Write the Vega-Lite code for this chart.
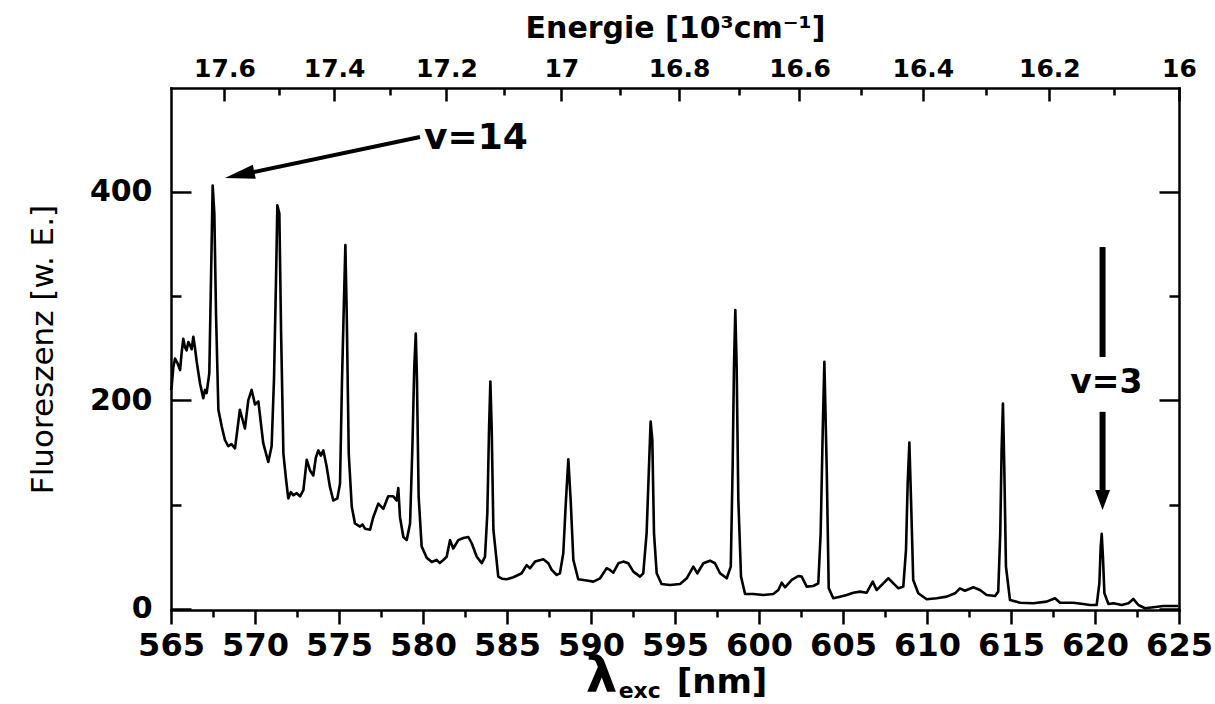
{
  "$schema": "https://vega.github.io/schema/vega-lite/v6.json",
  "width": 1008,
  "height": 522,
  "autosize": {"type": "none"},
  "padding": {"left": 171, "top": 88, "right": 36, "bottom": 94},
  "background": "white",
  "config": {
    "view": {"stroke": null},
    "axis": {
      "grid": false,
      "domainColor": "black",
      "tickColor": "black",
      "labelColor": "black",
      "titleColor": "black",
      "domainWidth": 2.5,
      "tickWidth": 2.5,
      "labelFlush": false,
      "labelOverlap": false,
      "labelBound": false,
      "labelFont": "DejaVu Sans",
      "labelFontWeight": "bold",
      "titleFont": "DejaVu Sans",
      "domainCap": "square"
    }
  },
  "datasets": {
    "spectrum": [
      {"wavelength": 565.0, "intensity": 210}, {"wavelength": 565.04, "intensity": 213}, {"wavelength": 565.14, "intensity": 232}, {"wavelength": 565.24, "intensity": 240},
      {"wavelength": 565.38, "intensity": 236}, {"wavelength": 565.54, "intensity": 229}, {"wavelength": 565.63, "intensity": 245}, {"wavelength": 565.73, "intensity": 259},
      {"wavelength": 565.83, "intensity": 251}, {"wavelength": 565.93, "intensity": 248}, {"wavelength": 566.03, "intensity": 256}, {"wavelength": 566.13, "intensity": 253},
      {"wavelength": 566.23, "intensity": 249}, {"wavelength": 566.33, "intensity": 261}, {"wavelength": 566.43, "intensity": 250}, {"wavelength": 566.53, "intensity": 237},
      {"wavelength": 566.73, "intensity": 216}, {"wavelength": 566.92, "intensity": 202}, {"wavelength": 567.02, "intensity": 210}, {"wavelength": 567.12, "intensity": 207},
      {"wavelength": 567.28, "intensity": 226}, {"wavelength": 567.38, "intensity": 315}, {"wavelength": 567.48, "intensity": 406}, {"wavelength": 567.58, "intensity": 379},
      {"wavelength": 567.68, "intensity": 283}, {"wavelength": 567.82, "intensity": 191}, {"wavelength": 568.02, "intensity": 175}, {"wavelength": 568.21, "intensity": 162},
      {"wavelength": 568.41, "intensity": 156}, {"wavelength": 568.6, "intensity": 158}, {"wavelength": 568.81, "intensity": 154}, {"wavelength": 569.1, "intensity": 191},
      {"wavelength": 569.4, "intensity": 173}, {"wavelength": 569.6, "intensity": 200}, {"wavelength": 569.8, "intensity": 210}, {"wavelength": 570.0, "intensity": 196},
      {"wavelength": 570.2, "intensity": 199}, {"wavelength": 570.49, "intensity": 159}, {"wavelength": 570.79, "intensity": 141}, {"wavelength": 570.99, "intensity": 156},
      {"wavelength": 571.13, "intensity": 220}, {"wavelength": 571.25, "intensity": 315}, {"wavelength": 571.33, "intensity": 387}, {"wavelength": 571.45, "intensity": 379},
      {"wavelength": 571.55, "intensity": 268}, {"wavelength": 571.69, "intensity": 149}, {"wavelength": 571.85, "intensity": 124}, {"wavelength": 571.98, "intensity": 106},
      {"wavelength": 572.13, "intensity": 112}, {"wavelength": 572.28, "intensity": 109}, {"wavelength": 572.48, "intensity": 111}, {"wavelength": 572.68, "intensity": 108},
      {"wavelength": 572.88, "intensity": 114}, {"wavelength": 573.08, "intensity": 143}, {"wavelength": 573.27, "intensity": 133}, {"wavelength": 573.47, "intensity": 128},
      {"wavelength": 573.62, "intensity": 145}, {"wavelength": 573.77, "intensity": 152}, {"wavelength": 573.92, "intensity": 147}, {"wavelength": 574.07, "intensity": 152},
      {"wavelength": 574.27, "intensity": 136}, {"wavelength": 574.46, "intensity": 117}, {"wavelength": 574.66, "intensity": 104}, {"wavelength": 574.9, "intensity": 106},
      {"wavelength": 575.06, "intensity": 120}, {"wavelength": 575.18, "intensity": 220}, {"wavelength": 575.3, "intensity": 299}, {"wavelength": 575.38, "intensity": 349},
      {"wavelength": 575.46, "intensity": 283}, {"wavelength": 575.58, "intensity": 149}, {"wavelength": 575.76, "intensity": 98}, {"wavelength": 575.95, "intensity": 82},
      {"wavelength": 576.25, "intensity": 79}, {"wavelength": 576.4, "intensity": 81}, {"wavelength": 576.55, "intensity": 77}, {"wavelength": 576.85, "intensity": 76},
      {"wavelength": 577.04, "intensity": 88}, {"wavelength": 577.34, "intensity": 101}, {"wavelength": 577.64, "intensity": 96}, {"wavelength": 577.93, "intensity": 108},
      {"wavelength": 578.23, "intensity": 108}, {"wavelength": 578.43, "intensity": 104}, {"wavelength": 578.53, "intensity": 116}, {"wavelength": 578.63, "intensity": 88},
      {"wavelength": 578.83, "intensity": 69}, {"wavelength": 579.03, "intensity": 66}, {"wavelength": 579.23, "intensity": 82}, {"wavelength": 579.37, "intensity": 156},
      {"wavelength": 579.48, "intensity": 232}, {"wavelength": 579.57, "intensity": 264}, {"wavelength": 579.64, "intensity": 220}, {"wavelength": 579.74, "intensity": 108},
      {"wavelength": 579.92, "intensity": 60}, {"wavelength": 580.22, "intensity": 49}, {"wavelength": 580.52, "intensity": 45}, {"wavelength": 580.81, "intensity": 47},
      {"wavelength": 581.0, "intensity": 44}, {"wavelength": 581.21, "intensity": 47}, {"wavelength": 581.41, "intensity": 50}, {"wavelength": 581.61, "intensity": 66},
      {"wavelength": 581.8, "intensity": 58}, {"wavelength": 582.1, "intensity": 66}, {"wavelength": 582.4, "intensity": 68}, {"wavelength": 582.7, "intensity": 69},
      {"wavelength": 582.9, "intensity": 63}, {"wavelength": 583.2, "intensity": 50}, {"wavelength": 583.5, "intensity": 44}, {"wavelength": 583.69, "intensity": 50},
      {"wavelength": 583.83, "intensity": 92}, {"wavelength": 583.93, "intensity": 172}, {"wavelength": 584.01, "intensity": 218}, {"wavelength": 584.09, "intensity": 172},
      {"wavelength": 584.19, "intensity": 76}, {"wavelength": 584.48, "intensity": 31}, {"wavelength": 584.7, "intensity": 29}, {"wavelength": 584.98, "intensity": 28.5},
      {"wavelength": 585.38, "intensity": 30.4}, {"wavelength": 585.87, "intensity": 34.2}, {"wavelength": 586.17, "intensity": 42}, {"wavelength": 586.37, "intensity": 39},
      {"wavelength": 586.67, "intensity": 45.4}, {"wavelength": 587.16, "intensity": 47.6}, {"wavelength": 587.46, "intensity": 43.8}, {"wavelength": 587.66, "intensity": 37.4},
      {"wavelength": 587.96, "intensity": 32.6}, {"wavelength": 588.15, "intensity": 34.2}, {"wavelength": 588.35, "intensity": 53.4}, {"wavelength": 588.51, "intensity": 104.5},
      {"wavelength": 588.65, "intensity": 143.5}, {"wavelength": 588.79, "intensity": 104.5}, {"wavelength": 588.95, "intensity": 47}, {"wavelength": 589.24, "intensity": 28.5},
      {"wavelength": 589.74, "intensity": 27.2}, {"wavelength": 590.14, "intensity": 26.2}, {"wavelength": 590.54, "intensity": 29.4}, {"wavelength": 590.93, "intensity": 39},
      {"wavelength": 591.13, "intensity": 37.4}, {"wavelength": 591.33, "intensity": 34.8}, {"wavelength": 591.63, "intensity": 43.8}, {"wavelength": 591.92, "intensity": 45.4},
      {"wavelength": 592.22, "intensity": 43.8}, {"wavelength": 592.52, "intensity": 35.8}, {"wavelength": 592.92, "intensity": 31}, {"wavelength": 593.11, "intensity": 34.2},
      {"wavelength": 593.31, "intensity": 72.6}, {"wavelength": 593.45, "intensity": 136}, {"wavelength": 593.55, "intensity": 179.6}, {"wavelength": 593.65, "intensity": 162},
      {"wavelength": 593.75, "intensity": 72.6}, {"wavelength": 593.91, "intensity": 34.2}, {"wavelength": 594.2, "intensity": 24}, {"wavelength": 594.7, "intensity": 23},
      {"wavelength": 595.3, "intensity": 24}, {"wavelength": 595.7, "intensity": 29.4}, {"wavelength": 596.09, "intensity": 40.6}, {"wavelength": 596.33, "intensity": 34.2},
      {"wavelength": 596.69, "intensity": 43.8}, {"wavelength": 597.08, "intensity": 46.3}, {"wavelength": 597.38, "intensity": 43.8}, {"wavelength": 597.68, "intensity": 34.2},
      {"wavelength": 598.08, "intensity": 29.4}, {"wavelength": 598.32, "intensity": 40.6}, {"wavelength": 598.43, "intensity": 136}, {"wavelength": 598.51, "intensity": 232},
      {"wavelength": 598.59, "intensity": 286.7}, {"wavelength": 598.67, "intensity": 232}, {"wavelength": 598.77, "intensity": 104.5}, {"wavelength": 598.93, "intensity": 31},
      {"wavelength": 599.17, "intensity": 14.4}, {"wavelength": 599.66, "intensity": 14.4}, {"wavelength": 600.26, "intensity": 13.4}, {"wavelength": 600.85, "intensity": 14.4},
      {"wavelength": 601.15, "intensity": 18.2}, {"wavelength": 601.35, "intensity": 25.2}, {"wavelength": 601.55, "intensity": 20.8}, {"wavelength": 601.95, "intensity": 27.8},
      {"wavelength": 602.34, "intensity": 31.6}, {"wavelength": 602.54, "intensity": 31}, {"wavelength": 602.84, "intensity": 21.4}, {"wavelength": 603.23, "intensity": 22},
      {"wavelength": 603.53, "intensity": 24.6}, {"wavelength": 603.67, "intensity": 72.6}, {"wavelength": 603.79, "intensity": 168}, {"wavelength": 603.89, "intensity": 237},
      {"wavelength": 604.03, "intensity": 136}, {"wavelength": 604.15, "intensity": 20}, {"wavelength": 604.42, "intensity": 10.3}, {"wavelength": 604.82, "intensity": 11.8},
      {"wavelength": 605.22, "intensity": 13.4}, {"wavelength": 605.61, "intensity": 15.6}, {"wavelength": 606.01, "intensity": 16.6}, {"wavelength": 606.41, "intensity": 15.6},
      {"wavelength": 606.77, "intensity": 26.2}, {"wavelength": 607.0, "intensity": 18.2}, {"wavelength": 607.4, "intensity": 24.6}, {"wavelength": 607.7, "intensity": 29.4},
      {"wavelength": 608.0, "intensity": 24.6}, {"wavelength": 608.3, "intensity": 19.8}, {"wavelength": 608.59, "intensity": 21.4}, {"wavelength": 608.75, "intensity": 56.6},
      {"wavelength": 608.85, "intensity": 120.5}, {"wavelength": 608.95, "intensity": 159.5}, {"wavelength": 609.05, "intensity": 104.5}, {"wavelength": 609.18, "intensity": 27.8},
      {"wavelength": 609.48, "intensity": 15}, {"wavelength": 609.98, "intensity": 9.3}, {"wavelength": 610.58, "intensity": 10.3}, {"wavelength": 611.17, "intensity": 11.8},
      {"wavelength": 611.67, "intensity": 15}, {"wavelength": 611.96, "intensity": 19.8}, {"wavelength": 612.26, "intensity": 17.5}, {"wavelength": 612.76, "intensity": 20.8},
      {"wavelength": 613.15, "intensity": 18.2}, {"wavelength": 613.55, "intensity": 13.4}, {"wavelength": 614.05, "intensity": 12.5}, {"wavelength": 614.24, "intensity": 16.6},
      {"wavelength": 614.36, "intensity": 72.6}, {"wavelength": 614.44, "intensity": 152}, {"wavelength": 614.52, "intensity": 197}, {"wavelength": 614.6, "intensity": 136},
      {"wavelength": 614.7, "intensity": 40.6}, {"wavelength": 614.94, "intensity": 8.6}, {"wavelength": 615.54, "intensity": 6}, {"wavelength": 616.33, "intensity": 5.5},
      {"wavelength": 617.12, "intensity": 7}, {"wavelength": 617.62, "intensity": 10.3}, {"wavelength": 617.92, "intensity": 6}, {"wavelength": 618.71, "intensity": 6},
      {"wavelength": 619.3, "intensity": 4.8}, {"wavelength": 619.7, "intensity": 3.8}, {"wavelength": 620.1, "intensity": 3.8}, {"wavelength": 620.26, "intensity": 24.6},
      {"wavelength": 620.34, "intensity": 59.7}, {"wavelength": 620.4, "intensity": 72}, {"wavelength": 620.48, "intensity": 47}, {"wavelength": 620.56, "intensity": 15},
      {"wavelength": 620.8, "intensity": 4.8}, {"wavelength": 621.1, "intensity": 5.5}, {"wavelength": 621.59, "intensity": 3.8}, {"wavelength": 621.99, "intensity": 5.5},
      {"wavelength": 622.28, "intensity": 9.6}, {"wavelength": 622.58, "intensity": 3.8}, {"wavelength": 622.98, "intensity": 0.7}, {"wavelength": 623.47, "intensity": 1.6},
      {"wavelength": 624.07, "intensity": 2.9}, {"wavelength": 624.97, "intensity": 2.9}
    ],
    "labels": [
      {"label": "v=14", "x": 583.15, "y": 441},
      {"label": "v=3", "x": 620.68, "y": 207}
    ],
    "arrows": [
      {"arrow": "v=14", "x": 579.82, "y": 452.5, "x2": 569.11, "y2": 416.1},
      {"arrow": "v=3 upper", "x": 620.45, "y": 347, "x2": 620.45, "y2": 241.6},
      {"arrow": "v=3 lower", "x": 620.45, "y": 189, "x2": 620.45, "y2": 112}
    ],
    "heads": [
      {"arrow": "v=14", "x": 568.21, "y": 413.2},
      {"arrow": "v=3", "x": 620.45, "y": 94.9}
    ],
    "xtitle": [
      {"part": "lambda", "text": "λ", "x": 590.63, "y": -79.5},
      {"part": "sub", "text": "exc", "x": 592.9, "y": -85.3},
      {"part": "unit", "text": "[nm]", "x": 597.8, "y": -81}
    ]
  },
  "layer": [
    {
      "data": {"name": "spectrum"},
      "mark": {"type": "line", "color": "black", "strokeWidth": 2.6, "strokeJoin": "round"},
      "encoding": {
        "x": {"field": "wavelength", "type": "quantitative",
          "scale": {"domain": [565, 625], "nice": false, "zero": false},
          "axis": {"orient": "bottom", "values": [565, 570, 575, 580, 585, 590, 595, 600, 605, 610, 615, 620, 625], "format": "d", "tickSize": 14, "labelPadding": 6, "labelFontSize": 32, "title": null}},
        "y": {"field": "intensity", "type": "quantitative",
          "scale": {"domain": [-1, 499.5], "nice": false, "zero": false},
          "axis": {"orient": "left", "values": [0, 200, 400], "ticks": false, "tickSize": 0, "labelPadding": 19, "labelFontSize": 30,
            "title": "Fluoreszenz [w. E.]", "titleFont": "DejaVu Sans", "titleFontWeight": "normal", "titleFontSize": 31, "titlePadding": 30}}
      }
    },
    {
      "data": {"name": "labels"},
      "transform": [{"filter": "datum.label == 'v=14'"}],
      "mark": {"type": "text", "font": "DejaVu Sans", "fontWeight": "bold", "fontSize": 36, "align": "center", "baseline": "alphabetic", "color": "black"},
      "encoding": {
        "x": {"field": "x", "type": "quantitative", "scale": {"domain": [565, 625], "nice": false, "zero": false},
          "axis": {"orient": "bottom", "values": [567.5, 572.5, 577.5, 582.5, 587.5, 592.5, 597.5, 602.5, 607.5, 612.5, 617.5, 622.5], "tickSize": 7, "labels": false, "domain": false, "title": null}},
        "y": {"field": "y", "type": "quantitative", "scale": {"domain": [-1, 499.5], "nice": false, "zero": false},
          "axis": {"orient": "left", "values": [0.01, 200.01, 400.01], "offset": -20, "tickSize": 20, "labels": false, "domain": false, "title": null}},
        "text": {"field": "label"}
      }
    },
    {
      "data": {"name": "labels"},
      "transform": [{"filter": "datum.label == 'v=3'"}],
      "mark": {"type": "text", "font": "DejaVu Sans", "fontWeight": "bold", "fontSize": 33, "align": "center", "baseline": "alphabetic", "color": "black"},
      "encoding": {
        "x": {"field": "x", "type": "quantitative", "scale": {"domain": [565, 625], "nice": false, "zero": false},
          "axis": {"orient": "top", "values": [568.1818, 574.7126, 581.3953, 588.2353, 595.2381, 602.4096, 609.7561, 617.284, 625],
            "labelExpr": "format(10000/datum.value, '.3~g')", "ticks": false, "tickSize": 0, "labelPadding": 7, "labelFontSize": 25, "domain": true,
            "title": "Energie [10³cm⁻¹]", "titleFontSize": 30, "titleFontWeight": "bold", "titlePadding": 13}},
        "y": {"field": "y", "type": "quantitative", "scale": {"domain": [-1, 499.5], "nice": false, "zero": false},
          "axis": {"orient": "left", "values": [100, 300], "offset": -10, "tickSize": 10, "labels": false, "domain": false, "title": null}},
        "text": {"field": "label"}
      }
    },
    {
      "data": {"name": "arrows"},
      "transform": [{"filter": "datum.arrow == 'v=14'"}],
      "mark": {"type": "rule", "color": "black", "strokeWidth": 4},
      "encoding": {
        "x": {"field": "x", "type": "quantitative", "scale": {"domain": [565, 625], "nice": false, "zero": false},
          "axis": {"orient": "top", "values": [568.1819, 574.7127, 581.3954, 588.2354, 595.2382, 602.4097, 609.7562, 617.2841, 624.9999], "offset": -13, "tickSize": 13, "labels": false, "domain": false, "title": null}},
        "y": {"field": "y", "type": "quantitative", "scale": {"domain": [-1, 499.5], "nice": false, "zero": false},
          "axis": {"orient": "right", "values": [0, 200, 400], "offset": -20, "tickSize": 20, "labels": false, "domain": false, "title": null}},
        "x2": {"field": "x2"},
        "y2": {"field": "y2"}
      }
    },
    {
      "data": {"name": "arrows"},
      "transform": [{"filter": "datum.arrow != 'v=14'"}],
      "mark": {"type": "rule", "color": "black", "strokeWidth": 6},
      "encoding": {
        "x": {"field": "x", "type": "quantitative", "scale": {"domain": [565, 625], "nice": false, "zero": false},
          "axis": {"orient": "top", "values": [571.4286, 578.0347, 584.7953, 591.716, 598.8024, 606.0606, 613.4969, 621.118], "offset": -7, "tickSize": 7, "labels": false, "domain": false, "title": null}},
        "y": {"field": "y", "type": "quantitative", "scale": {"domain": [-1, 499.5], "nice": false, "zero": false},
          "axis": {"orient": "right", "values": [100, 300], "offset": -10, "tickSize": 10, "labels": false, "domain": false, "title": null}},
        "x2": {"field": "x2"},
        "y2": {"field": "y2"}
      }
    },
    {
      "data": {"name": "heads"},
      "transform": [{"filter": "datum.arrow == 'v=14'"}],
      "mark": {"type": "point", "shape": "M0,0L0.47,2L-0.47,2Z", "filled": true, "color": "black", "opacity": 1, "size": 900, "angle": 258, "strokeWidth": 0},
      "encoding": {
        "x": {"field": "x", "type": "quantitative", "scale": {"domain": [565, 625], "nice": false, "zero": false}, "axis": null},
        "y": {"field": "y", "type": "quantitative", "scale": {"domain": [-1, 499.5], "nice": false, "zero": false},
          "axis": {"orient": "right", "ticks": false, "labels": false, "domain": true, "title": null}}
      }
    },
    {
      "data": {"name": "heads"},
      "transform": [{"filter": "datum.arrow == 'v=3'"}],
      "mark": {"type": "point", "shape": "M0,0L0.75,2L-0.75,2Z", "filled": true, "color": "black", "opacity": 1, "size": 400, "angle": 180, "strokeWidth": 0},
      "encoding": {
        "x": {"field": "x", "type": "quantitative", "scale": {"domain": [565, 625], "nice": false, "zero": false}, "axis": null},
        "y": {"field": "y", "type": "quantitative", "scale": {"domain": [-1, 499.5], "nice": false, "zero": false}, "axis": null}
      }
    },
    {
      "data": {"name": "xtitle"},
      "transform": [{"filter": "datum.part == 'lambda'"}],
      "mark": {"type": "text", "font": "DejaVu Sans", "fontWeight": "bold", "fontSize": 50, "align": "center", "baseline": "alphabetic", "color": "black"},
      "encoding": {
        "x": {"field": "x", "type": "quantitative", "scale": {"domain": [565, 625], "nice": false, "zero": false}, "axis": null},
        "y": {"field": "y", "type": "quantitative", "scale": {"domain": [-1, 499.5], "nice": false, "zero": false}, "axis": null},
        "text": {"field": "text"}
      }
    },
    {
      "data": {"name": "xtitle"},
      "transform": [{"filter": "datum.part == 'sub'"}],
      "mark": {"type": "text", "font": "DejaVu Sans", "fontWeight": "bold", "fontSize": 22, "align": "center", "baseline": "alphabetic", "color": "black"},
      "encoding": {
        "x": {"field": "x", "type": "quantitative", "scale": {"domain": [565, 625], "nice": false, "zero": false}, "axis": null},
        "y": {"field": "y", "type": "quantitative", "scale": {"domain": [-1, 499.5], "nice": false, "zero": false}, "axis": null},
        "text": {"field": "text"}
      }
    },
    {
      "data": {"name": "xtitle"},
      "transform": [{"filter": "datum.part == 'unit'"}],
      "mark": {"type": "text", "font": "DejaVu Sans", "fontWeight": "bold", "fontSize": 34, "align": "center", "baseline": "alphabetic", "color": "black"},
      "encoding": {
        "x": {"field": "x", "type": "quantitative", "scale": {"domain": [565, 625], "nice": false, "zero": false}, "axis": null},
        "y": {"field": "y", "type": "quantitative", "scale": {"domain": [-1, 499.5], "nice": false, "zero": false}, "axis": null},
        "text": {"field": "text"}
      }
    }
  ],
  "resolve": {"axis": {"x": "independent", "y": "independent"}}
}
